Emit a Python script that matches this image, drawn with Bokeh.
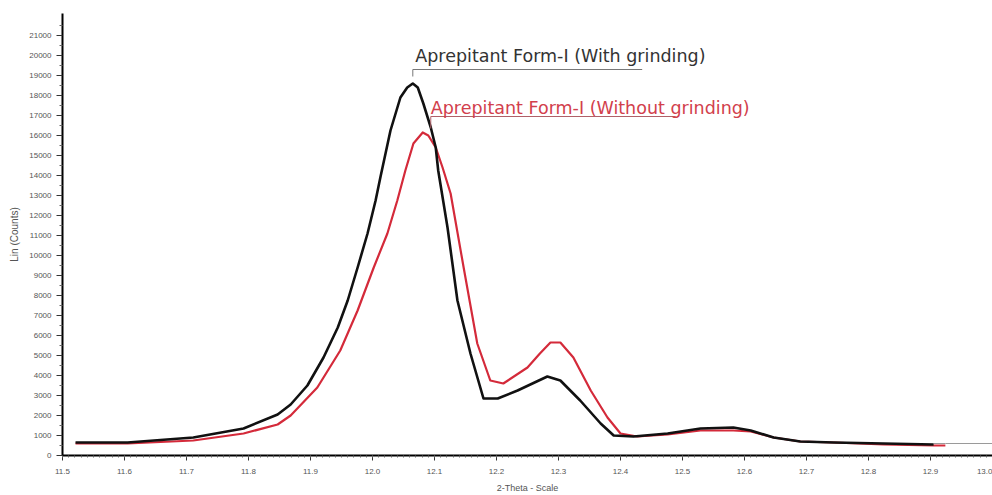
from bokeh.plotting import figure
from bokeh.models import FixedTicker, Range1d, Label
from bokeh.embed import file_html
from bokeh.resources import INLINE

# --- data (2-Theta, Lin counts) ---
theta_grind = [11.521, 11.605, 11.711, 11.792, 11.847, 11.868, 11.895, 11.921, 11.944, 11.960,
               11.976, 11.992, 12.005, 12.013, 12.029, 12.045, 12.056, 12.065, 12.073, 12.082,
               12.094, 12.102, 12.106, 12.121, 12.137, 12.158, 12.179, 12.202, 12.234, 12.282,
               12.303, 12.335, 12.368, 12.389, 12.421, 12.476, 12.529, 12.582, 12.610, 12.647,
               12.690, 12.744, 12.824, 12.905]
counts_grind = [650, 650, 900, 1350, 2050, 2550, 3500, 4900, 6400, 7750,
                9400, 11100, 12750, 13950, 16250, 17900, 18400, 18600, 18400, 17600,
                16400, 15400, 14250, 11400, 7750, 5100, 2850, 2850, 3250, 3950,
                3750, 2750, 1600, 1000, 950, 1100, 1350, 1400, 1250, 900,
                700, 650, 600, 550]

theta_nogrind = [11.521, 11.605, 11.711, 11.792, 11.847, 11.868, 11.911, 11.948, 11.976, 12.002,
                 12.024, 12.040, 12.053, 12.066, 12.081, 12.090, 12.102, 12.113, 12.126, 12.147,
                 12.169, 12.190, 12.211, 12.250, 12.270, 12.287, 12.303, 12.324, 12.352, 12.379,
                 12.400, 12.427, 12.476, 12.529, 12.582, 12.610, 12.647, 12.690, 12.744, 12.824,
                 12.905, 12.924]
counts_nogrind = [600, 600, 750, 1100, 1550, 2000, 3400, 5250, 7250, 9400,
                  11100, 12750, 14250, 15600, 16150, 16000, 15400, 14400, 13100, 9400,
                  5600, 3750, 3600, 4400, 5100, 5650, 5650, 4900, 3250, 1900,
                  1100, 950, 1050, 1250, 1250, 1200, 900, 700, 650, 550,
                  500, 500]

theta_tail = [12.905, 12.924, 13.0]
counts_tail = [600, 600, 600]

x_ticks = [11.5, 11.6, 11.7, 11.8, 11.9, 12.0, 12.1, 12.2, 12.3, 12.4, 12.5, 12.6, 12.7, 12.8, 12.9, 13.0]
x_tick_labels = ["11.5", "11.6", "11.7", "11.8", "11.9", "12.0", "12.1", "12.2", "12.3", "12.4",
                 "12.5", "12.6", "12.7", "12.8", "12.9", "13.0"]
y_ticks = [0, 1000, 2000, 3000, 4000, 5000, 6000, 7000, 8000, 9000, 10000, 11000,
           12000, 13000, 14000, 15000, 16000, 17000, 18000, 19000, 20000, 21000]
y_tick_labels = [str(v) for v in y_ticks]

label_grind = "Aprepitant Form-I (With grinding)"
label_nogrind = "Aprepitant Form-I (Without grinding)"

p = figure(width=992, height=495, output_backend="svg", toolbar_location=None,
           x_range=Range1d(11.5, 13.0), y_range=Range1d(0, 22100),
           min_border_left=62, min_border_right=0, min_border_top=13, min_border_bottom=40)
p.outline_line_color = None
p.background_fill_color = "white"
p.border_fill_color = "white"
p.grid.visible = False

# axes
p.xaxis.ticker = FixedTicker(ticks=x_ticks,
                             minor_ticks=[round(11.5 + i * 0.01, 2) for i in range(151)])
p.xaxis.major_label_overrides = {t: l for t, l in zip(x_ticks, x_tick_labels)}
p.yaxis.ticker = FixedTicker(ticks=y_ticks, minor_ticks=[v + 500 for v in y_ticks])
p.yaxis.major_label_overrides = {t: l for t, l in zip(y_ticks, y_tick_labels)}

for ax in (p.xaxis, p.yaxis):
    ax.axis_line_color = "black"
    ax.axis_line_width = 2
    ax.major_tick_line_color = "#333333"
    ax.minor_tick_line_color = "#666666"
    ax.major_tick_in = 0
    ax.minor_tick_in = 0
    ax.major_label_text_font = "Liberation Sans"
    ax.major_label_text_font_size = "8px"
    ax.major_label_text_color = "#555555"
    ax.axis_label_text_font = "Liberation Sans"
    ax.axis_label_text_font_style = "normal"
    ax.axis_label_text_color = "#555555"

p.xaxis.major_tick_out = 5
p.xaxis.minor_tick_out = 2
p.xaxis.major_label_standoff = 8
p.xaxis.axis_label = "2-Theta - Scale"
p.xaxis.axis_label_text_font_size = "9px"
p.xaxis.axis_label_standoff = 6

p.yaxis.major_tick_out = 6
p.yaxis.minor_tick_out = 3
p.yaxis.major_label_standoff = 5
p.yaxis.axis_label = "Lin (Counts)"
p.yaxis.axis_label_text_font_size = "10px"
p.yaxis.axis_label_standoff = 6

# curves
p.line(theta_tail, counts_tail, line_color="#9a9a9a", line_width=1)
p.line(theta_nogrind, counts_nogrind, line_color="#d42a3a", line_width=2.2, line_join="round")
p.line(theta_grind, counts_grind, line_color="#111111", line_width=2.6, line_join="round")

# annotations
peak_x = theta_grind[counts_grind.index(max(counts_grind))]
p.line([peak_x, peak_x, 12.435], [18950, 19300, 19300], line_color="#777777", line_width=1)
p.add_layout(Label(x=peak_x + 0.004, y=20000, text=label_grind, text_font="DejaVu Sans",
                   text_font_size="17.5px", text_color="#333333", text_baseline="middle"))

p.line([12.094, 12.094, 12.489], [16350, 16950, 16950], line_color="#b06068", line_width=1)
p.add_layout(Label(x=12.094, y=17400, text=label_nogrind, text_font="DejaVu Sans",
                   text_font_size="17.5px", text_color="#d2404c", text_baseline="middle"))

open("out.html", "w").write(file_html(p, INLINE))
